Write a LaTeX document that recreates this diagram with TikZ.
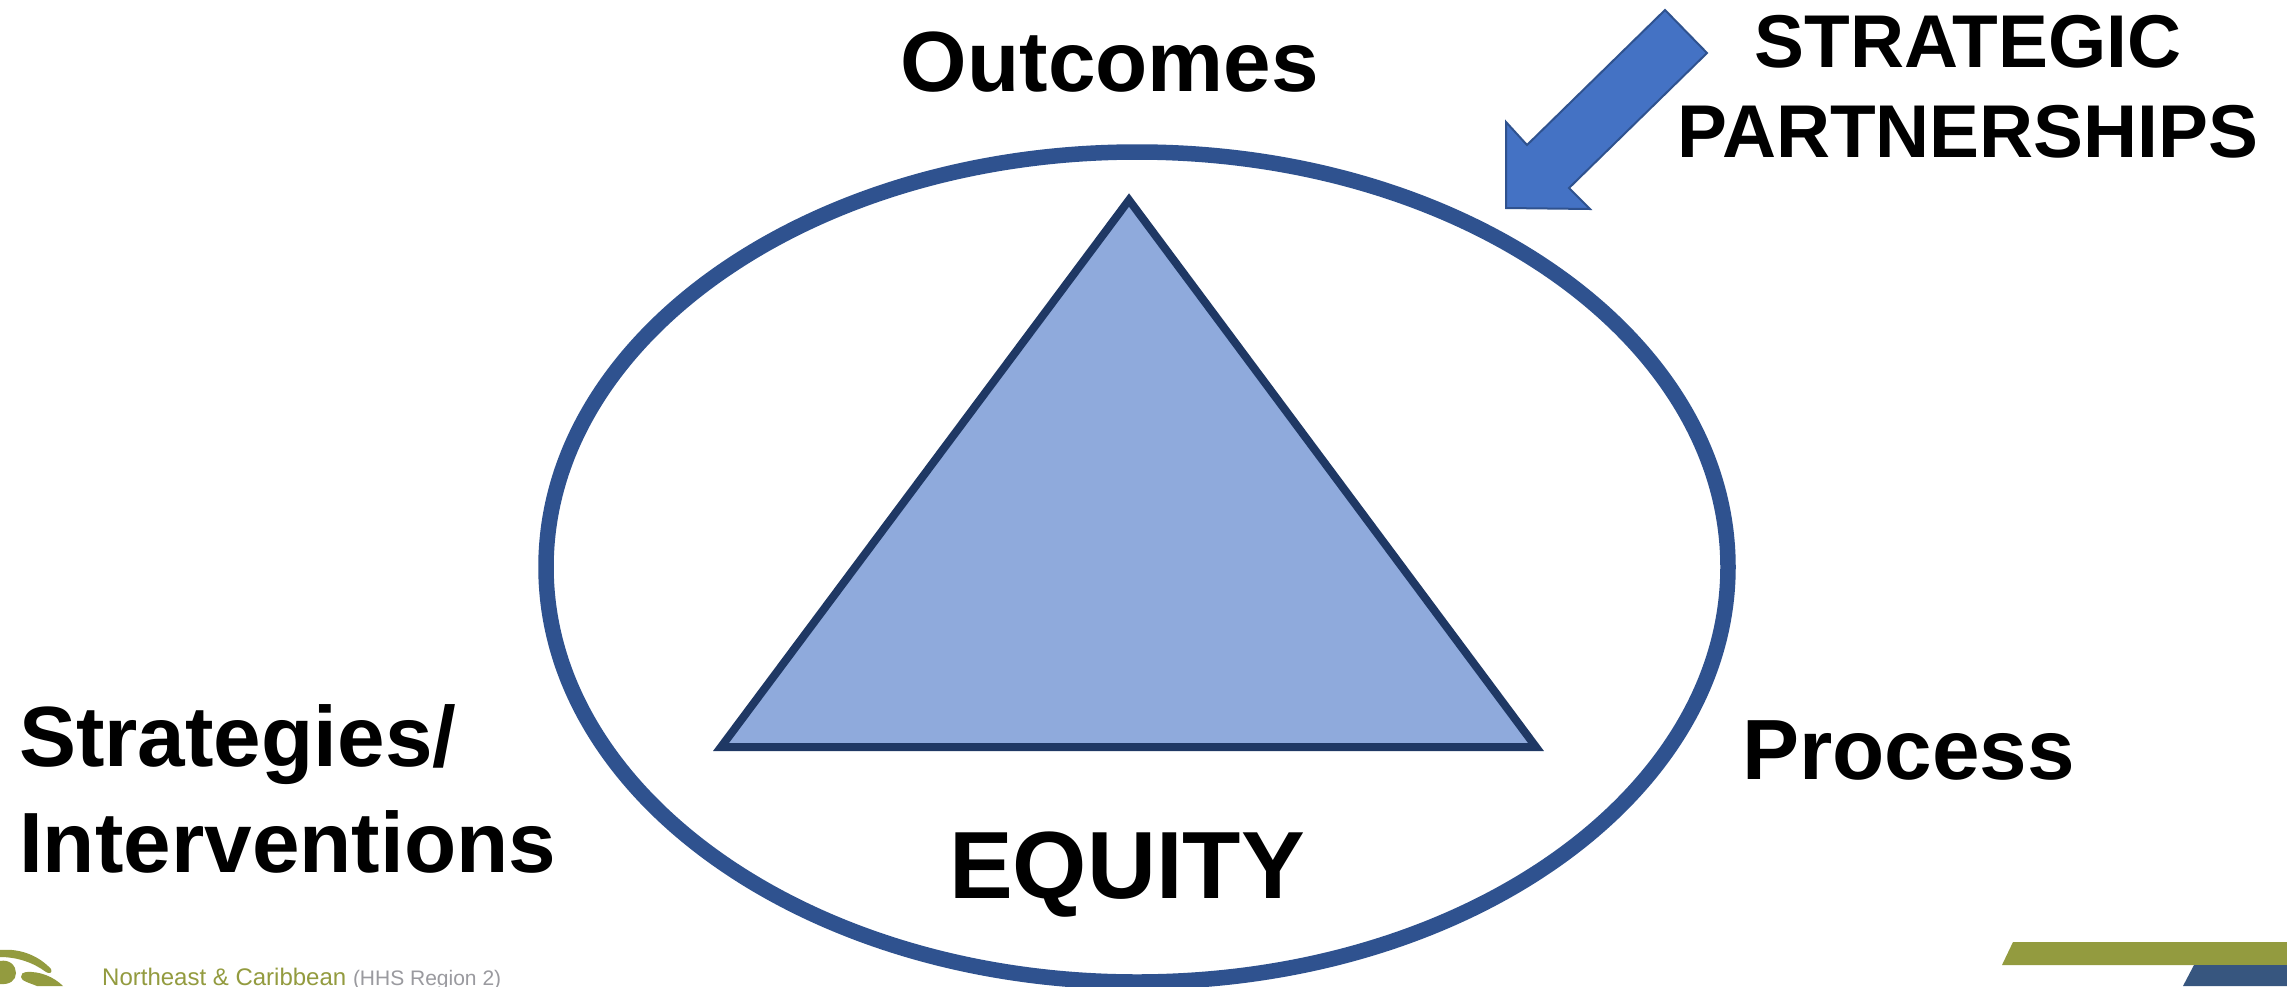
\documentclass[tikz,border=0pt]{standalone}
\usepackage{fontspec}
\setmainfont{Liberation Sans}
\definecolor{ringblue}{HTML}{2F528F}
\definecolor{trifill}{HTML}{8FAADC}
\definecolor{triline}{HTML}{1F3864}
\definecolor{arrowfill}{HTML}{4472C4}
\definecolor{olive}{HTML}{939B3F}
\definecolor{navy}{HTML}{37567F}
\definecolor{greytext}{HTML}{9A9A9F}
\tikzset{
  big/.style={font=\fontsize{85.5}{106}\selectfont\bfseries, text=black, inner sep=0pt, align=center},
  foot/.style={font=\fontsize{24}{28}\selectfont, inner sep=0pt, anchor=base west},
}
\begin{document}
\begin{tikzpicture}[x=1pt,y=-1pt]
\useasboundingbox (0,0) rectangle (2287,986);
\fill[white] (0,0) rectangle (2287,986);
\draw[ringblue,line width=15.5pt] (1137,567) ellipse [x radius=591, y radius=415];
\draw[triline,line width=8pt,fill=trifill,line join=miter] (1129,200) -- (1536,747) -- (721,747) -- cycle;
\draw[ringblue,line width=2pt,fill=arrowfill,line join=miter] (1665,10) -- (1707,53) -- (1569,188) -- (1590,209) -- (1506,208) -- (1506,122) -- (1527,145) -- cycle;
\node[big] (outcomes) at (1110,62) {Outcomes};
\node[big,font=\fontsize{74.8}{90}\selectfont\bfseries] (strategic) at (1968,87) {STRATEGIC\\PARTNERSHIPS};
\node[big,align=left,anchor=west] (strategies) at (19,789) {Strategies/\\Interventions};
\node[big,anchor=west] (process) at (1742,750) {Process};
\node[big,font=\fontsize{95.5}{110}\selectfont\bfseries] (equity) at (1127,875) {EQUITY};
\node[foot,text=olive] (region) at (102,985) {Northeast \& Caribbean \textcolor{greytext}{\fontsize{21}{25}\selectfont(HHS Region 2)}};
\fill[olive] (2013,942) -- (2287,942) -- (2287,965) -- (2002,965) -- cycle;
\fill[navy] (2194,965) -- (2287,965) -- (2287,986) -- (2183,986) -- cycle;
\fill[olive] (0,950) .. controls (22,948) and (40,957) .. (51,969) .. controls (53,973) and (49,974) .. (46,972) .. controls (34,963) and (18,957) .. (0,957) -- cycle;
\fill[olive] (0,961) .. controls (10,959) and (16,966) .. (16,973) .. controls (16,980) and (10,985) .. (0,984) -- cycle;
\fill[olive] (26,972) .. controls (40,971) and (54,977) .. (63,986) -- (37,986) .. controls (30,983) and (21,981) .. (21,977) .. controls (21,974) and (23,972) .. (26,972) -- cycle;
\end{tikzpicture}
\end{document}
